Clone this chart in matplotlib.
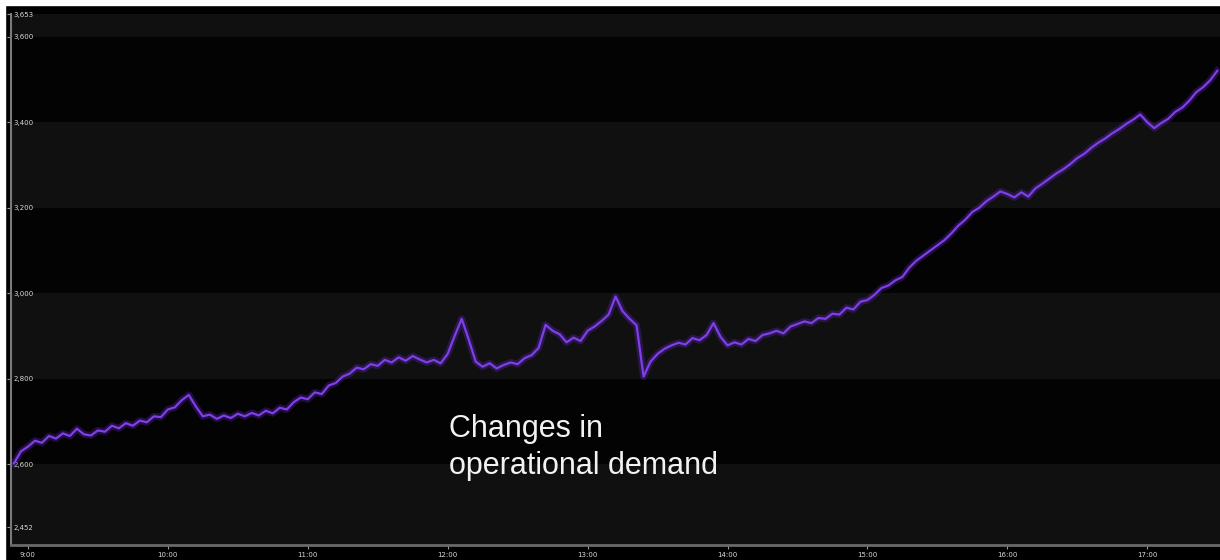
import numpy as np
import matplotlib
matplotlib.use("Agg")
import matplotlib.pyplot as plt
from matplotlib.patches import Rectangle

# =========================
# Dados (amostras de 3 min a partir de 8:54)
# =========================
t_inicio = 8.90
passo = 0.05
valores = [
    2602, 2630, 2641, 2655, 2650, 2666, 2660, 2672, 2666, 2683,
    2670, 2667, 2679, 2676, 2690, 2684, 2696, 2690, 2702, 2698,
    2712, 2710, 2728, 2733, 2750, 2762, 2735, 2712, 2716, 2706,
    2714, 2708, 2718, 2712, 2720, 2714, 2725, 2719, 2732, 2728,
    2745, 2756, 2752, 2768, 2764, 2784, 2790, 2805, 2812, 2826,
    2822, 2834, 2830, 2844, 2838, 2850, 2842, 2853, 2845, 2838,
    2844, 2836, 2858, 2900, 2940, 2892, 2840, 2828, 2836, 2824,
    2832, 2838, 2834, 2848, 2855, 2872, 2926, 2912, 2904, 2885,
    2896, 2888, 2912, 2922, 2935, 2950, 2992, 2958, 2940, 2925,
    2805, 2840, 2858, 2870, 2878, 2884, 2880, 2895, 2890, 2902,
    2930, 2898, 2878, 2885, 2880, 2893, 2888, 2902, 2906, 2912,
    2906, 2922, 2928, 2934, 2930, 2942, 2940, 2952, 2950, 2966,
    2962, 2980, 2984, 2996, 3012, 3018, 3030, 3038, 3060, 3076,
    3088, 3100, 3112, 3124, 3140, 3158, 3172, 3190, 3200, 3215,
    3226, 3238, 3232, 3224, 3236, 3226, 3245, 3256, 3268, 3280,
    3290, 3302, 3316, 3326, 3340, 3352, 3362, 3374, 3384, 3396,
    3406, 3418, 3400, 3386, 3398, 3408, 3424, 3434, 3450, 3470,
    3482, 3498, 3520,
]
tempo = t_inicio + passo * np.arange(len(valores))

horas = [9, 10, 11, 12, 13, 14, 15, 16, 17]
rotulos_x = ["9:00", "10:00", "11:00", "12:00", "13:00", "14:00", "15:00", "16:00", "17:00"]

ticks_y = [2452, 2600, 2800, 3000, 3200, 3400, 3600, 3653]
rotulos_y = ["2,452", "2,600", "2,800", "3,000", "3,200", "3,400", "3,600", "3,653"]

faixas_claras = [(2411, 2600), (2800, 3000), (3200, 3400), (3600, 3653)]

# =========================
# Figura
# =========================
W, H = 1220, 560
fig = plt.figure(figsize=(W / 100, H / 100), dpi=100, facecolor="black")
ax = fig.add_axes([11 / W, 15 / H, 1 - 11 / W, (545 - 14) / H])
ax.set_facecolor("#030303")

for a, b in faixas_claras:
    ax.axhspan(a, b, color="#101010", lw=0, zorder=0)

# linha "borrada" + linha fina
ax.plot(tempo, valores, color="#5a22b8", lw=5, alpha=0.35, zorder=2)
ax.plot(tempo, valores, color="#7e40e6", lw=1.6, zorder=3)

ax.set_xlim(8.879, 17.52)
ax.set_ylim(2411, 3653)

ax.set_xticks(horas)
ax.set_xticklabels(rotulos_x)
ax.set_yticks(ticks_y)
ax.set_yticklabels(rotulos_y)

ax.tick_params(axis="x", colors="#9a9a9a", labelcolor="#d8d8d8", labelsize=5,
               length=3, width=0.8, pad=2)
ax.tick_params(axis="y", colors="#9a9a9a", labelcolor="#d8d8d8", labelsize=5,
               length=3, width=0.8, pad=-5)
for lab in ax.get_yticklabels():
    lab.set_horizontalalignment("left")

for lado in ["top", "right"]:
    ax.spines[lado].set_visible(False)
ax.spines["left"].set_color("#7a7a7a")
ax.spines["left"].set_linewidth(1.5)
ax.spines["bottom"].set_color("#6a6a6a")
ax.spines["bottom"].set_linewidth(2)

# faixas brancas nas bordas (print de tela)
fig.patches.append(Rectangle((0, 0), 5 / W, 1, transform=fig.transFigure,
                             color="white", zorder=10))
fig.patches.append(Rectangle((0, 1 - 5 / H), 1, 5 / H, transform=fig.transFigure,
                             color="white", zorder=10))

fig.text(449 / W, 1 - 414 / H, "Changes in\noperational demand",
         color="#f2f2f2", fontsize=22, family="Liberation Sans",
         va="top", ha="left", linespacing=1.3)

fig.savefig("out.png", dpi=100, facecolor=fig.get_facecolor())
